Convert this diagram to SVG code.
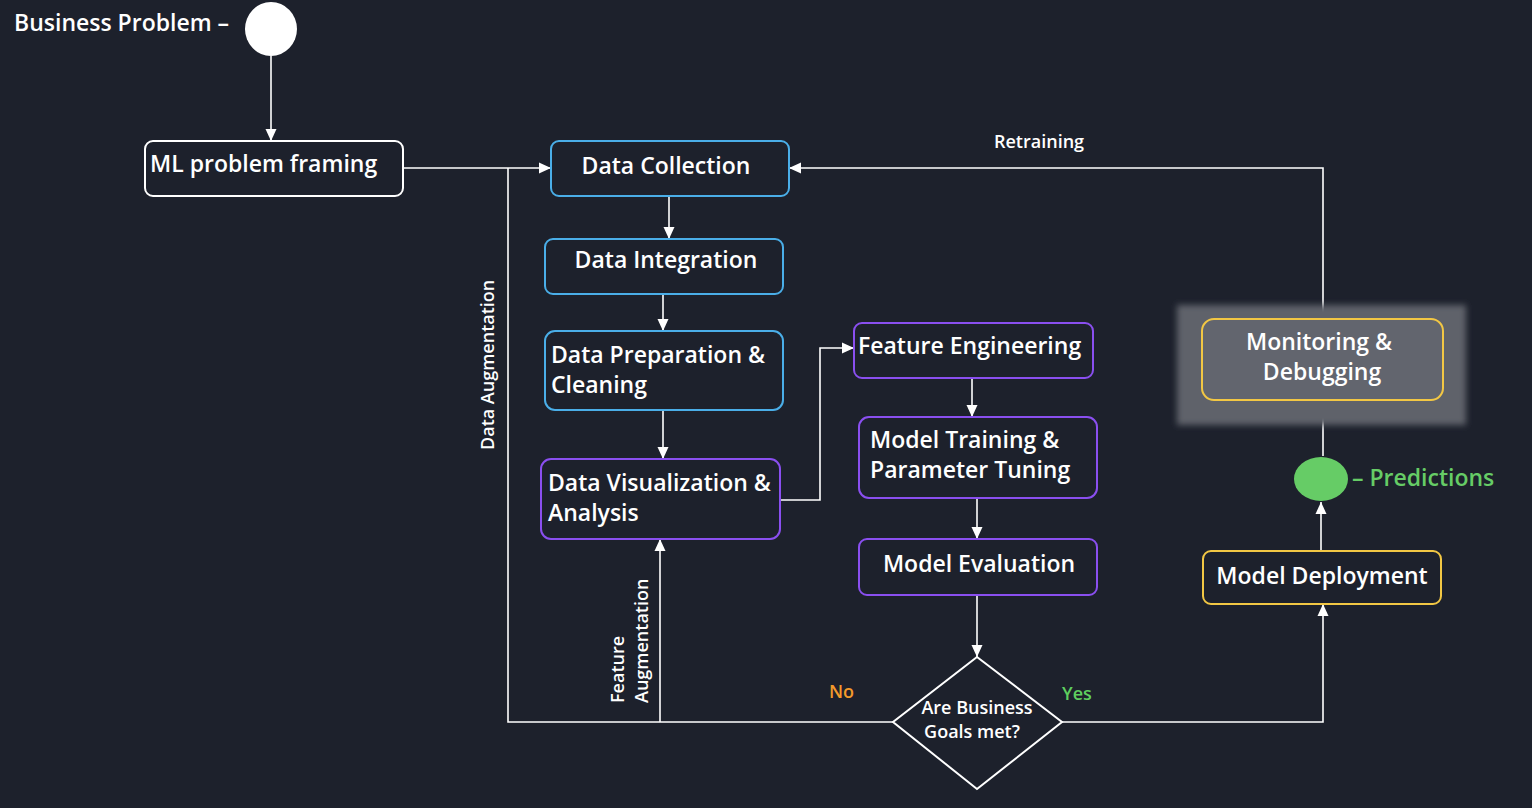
<svg xmlns="http://www.w3.org/2000/svg" width="1532" height="808" viewBox="0 0 1532 808">
<style>
text{font-family:"Open Sans","Noto Sans","Liberation Sans",sans-serif;fill:#ffffff;font-weight:600;}
.lbl{font-size:23px;}
.sm{font-size:18px;}
.box{fill:#1d212c;stroke-width:2;}
.w{stroke:#ffffff;}
.b{stroke:#4aaee8;}
.p{stroke:#8a4ff0;}
.y{stroke:#f2c744;}
.c{fill:none;stroke:#ffffff;stroke-width:1.6;}
</style>
<defs>
<marker id="ah" viewBox="0 0 12 12" refX="12" refY="6" markerWidth="12" markerHeight="12" markerUnits="userSpaceOnUse" orient="auto">
<path d="M0,0.5 L12,6 L0,11.5 z" fill="#ffffff"/>
</marker>
<filter id="blur" x="-20%" y="-20%" width="140%" height="140%"><feGaussianBlur stdDeviation="3"/></filter>
</defs>
<rect width="1532" height="808" fill="#1d212c"/>

<g id="connectors">
<path class="c" d="M271,56 L271,141" marker-end="url(#ah)"/>
<path class="c" d="M403,168 L551,168" marker-end="url(#ah)"/>
<path class="c" d="M508,168 L508,722 L893,722"/>
<path class="c" d="M669,196 L669,239" marker-end="url(#ah)"/>
<path class="c" d="M663,294 L663,331" marker-end="url(#ah)"/>
<path class="c" d="M663,410 L663,459" marker-end="url(#ah)"/>
<path class="c" d="M780,500 L820,500 L820,348 L854,348" marker-end="url(#ah)"/>
<path class="c" d="M972,378 L972,417" marker-end="url(#ah)"/>
<path class="c" d="M977,498 L977,539" marker-end="url(#ah)"/>
<path class="c" d="M977,595 L977,657" marker-end="url(#ah)"/>
<path class="c" d="M660,722 L660,539" marker-end="url(#ah)"/>
<path class="c" d="M1062,722 L1323,722 L1323,604" marker-end="url(#ah)"/>
<path class="c" d="M1321,551 L1321,502" marker-end="url(#ah)"/>
<path class="c" d="M1323,456 L1323,400" marker-end="url(#ah)"/>
<path class="c" d="M1323,319 L1323,168 L789,168" marker-end="url(#ah)"/>
<text class="sm" x="994" y="148">Retraining</text>
<text class="sm" transform="translate(494,450) rotate(-90)">Data Augmentation</text>
<text class="sm" transform="translate(624,703) rotate(-90)">Feature</text>
<text class="sm" transform="translate(648,703) rotate(-90)">Augmentation</text>
<text class="sm" x="829" y="698" style="fill:#f39a2b">No</text>
<text class="sm" x="1062" y="700" style="fill:#5fcf5f">Yes</text>
</g>

<g id="start">
<text class="lbl" x="14" y="31">Business Problem –</text>
<ellipse cx="271" cy="29" rx="26" ry="27" fill="#ffffff"/>
</g>

<g id="ml-framing">
<rect class="box w" x="145" y="141" width="258" height="55" rx="8"/>
<text class="lbl" x="150" y="172">ML problem framing</text>
</g>

<g id="data-collection">
<rect class="box b" x="551" y="141" width="238" height="55" rx="8"/>
<text class="lbl" x="666" y="174" text-anchor="middle">Data Collection</text>
</g>

<g id="data-integration">
<rect class="box b" x="545" y="239" width="238" height="55" rx="8"/>
<text class="lbl" x="666" y="268" text-anchor="middle">Data Integration</text>
</g>

<g id="data-preparation">
<rect class="box b" x="545" y="331" width="238" height="79" rx="10"/>
<text class="lbl" x="551" y="363">Data Preparation &amp;</text>
<text class="lbl" x="551" y="393">Cleaning</text>
</g>

<g id="data-visualization">
<rect class="box p" x="541" y="459" width="239" height="80" rx="10"/>
<text class="lbl" x="548" y="491">Data Visualization &amp;</text>
<text class="lbl" x="548" y="521">Analysis</text>
</g>

<g id="feature-engineering">
<rect class="box p" x="854" y="323" width="239" height="55" rx="8"/>
<text class="lbl" x="858" y="354">Feature Engineering</text>
</g>

<g id="model-training">
<rect class="box p" x="859" y="417" width="238" height="81" rx="10"/>
<text class="lbl" x="870" y="448">Model Training &amp;</text>
<text class="lbl" x="870" y="478">Parameter Tuning</text>
</g>

<g id="model-evaluation">
<rect class="box p" x="859" y="539" width="238" height="56" rx="8"/>
<text class="lbl" x="979" y="572" text-anchor="middle">Model Evaluation</text>
</g>

<g id="decision">
<path d="M977,657 L1062,722 L977,789 L893,722 Z" fill="#1d212c" stroke="#ffffff" stroke-width="2"/>
<text class="sm" x="977" y="714" text-anchor="middle">Are Business</text>
<text class="sm" x="972" y="738" text-anchor="middle">Goals met?</text>
</g>

<g id="model-deployment">
<rect class="box y" x="1203" y="551" width="238" height="53" rx="8"/>
<text class="lbl" x="1322" y="584" text-anchor="middle">Model Deployment</text>
</g>

<g id="predictions">
<ellipse cx="1321" cy="479" rx="27" ry="22" fill="#66cc66"/>
<text class="lbl" x="1352" y="486" style="fill:#66cc66">– Predictions</text>
</g>

<g id="monitoring">
<rect x="1177" y="305" width="289" height="120" fill="#5f626b" filter="url(#blur)"/>
<rect x="1202" y="319" width="241" height="81" rx="12" fill="#62656e" stroke="#f2c744" stroke-width="2"/>
<text class="lbl" x="1319" y="350" text-anchor="middle">Monitoring &amp;</text>
<text class="lbl" x="1322" y="380" text-anchor="middle">Debugging</text>
</g>
</svg>
